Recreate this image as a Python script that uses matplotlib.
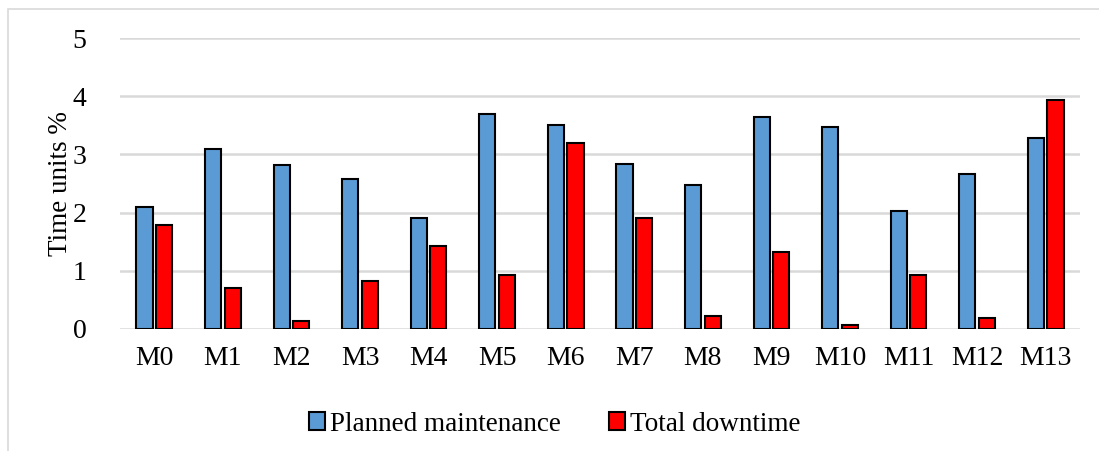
import matplotlib.pyplot as plt
import numpy as np
from matplotlib.patches import Rectangle

plt.rcParams['font.family'] = ['Liberation Serif', 'DejaVu Serif']

# data
machines = ['M0', 'M1', 'M2', 'M3', 'M4', 'M5', 'M6', 'M7', 'M8', 'M9', 'M10', 'M11', 'M12', 'M13']
planned = [2.10, 3.10, 2.81, 2.57, 1.91, 3.69, 3.50, 2.83, 2.47, 3.64, 3.47, 2.03, 2.66, 3.29]
downtime = [1.79, 0.71, 0.14, 0.83, 1.43, 0.93, 3.19, 1.91, 0.22, 1.33, 0.07, 0.93, 0.19, 3.93]

blue = '#5b9bd5'
red = '#ff0000'

fig = plt.figure(figsize=(10.99, 4.51), dpi=100)
ax = fig.add_axes([120 / 1099, 1 - 329 / 451, 960 / 1099, 291 / 451])

x = np.arange(len(machines))
w = 0.235
ax.bar(x - w / 2 - 0.025, planned, w, color=blue, edgecolor='black', linewidth=1.5,
       label='Planned maintenance', zorder=3)
ax.bar(x + w / 2 + 0.025, downtime, w, color=red, edgecolor='black', linewidth=1.5,
       label='Total downtime', zorder=3)

ax.set_xlim(-0.5, len(machines) - 0.5)
ax.set_ylim(0, 5)
ax.set_yticks(range(6))
ax.set_xticks(x)
ax.set_xticklabels(machines)
ax.tick_params(axis='both', length=0, labelsize=20)
ax.tick_params(axis='x', pad=12)
ax.tick_params(axis='y', pad=24)
ax.grid(axis='y', color='#d9d9d9', linewidth=1.8, zorder=0)
for s in ax.spines.values():
    s.set_visible(False)
ax.set_ylabel('Time units %', fontsize=19.5, labelpad=0)

ax.legend(loc='upper center', bbox_to_anchor=(0.453, -0.2), ncol=2, frameon=False,
          fontsize=19.5, handlelength=0.6, handleheight=0.6, handletextpad=0.2,
          columnspacing=1.75)

# outer chart border
fig.add_artist(Rectangle((8 / 1099, -0.05), 1.2, 1 - 9 / 451 + 0.05,
                         transform=fig.transFigure, fill=False,
                         edgecolor='#d9d9d9', linewidth=1.2))

fig.savefig('out.png', dpi=100)
